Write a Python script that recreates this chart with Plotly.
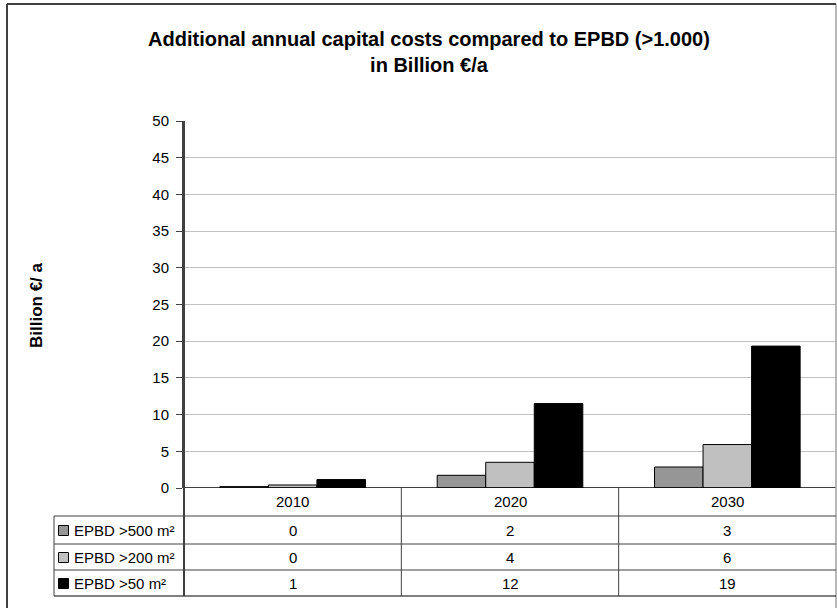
import plotly.graph_objects as go

# ---- data ----
years = ["2010", "2020", "2030"]
series_names = ["EPBD >500 m²", "EPBD >200 m²", "EPBD >50 m²"]
epbd_500 = [0.19, 1.73, 2.86]
epbd_200 = [0.41, 3.5, 5.92]
epbd_50 = [1.15, 11.5, 19.33]
series_values = [epbd_500, epbd_200, epbd_50]
series_colors = ["#969696", "#C0C0C0", "#000000"]
y_ticks = [0, 5, 10, 15, 20, 25, 30, 35, 40, 45, 50]

FONT = "Liberation Sans, Arial, sans-serif"
W, H = 837, 608
L, R, T, B = 184, 1, 121, 120
PH = H - T - B  # plot height in px


def py(ypx):
    """pixel y (from top) -> paper y"""
    return (H - B - ypx) / PH


def px(xpx):
    return (xpx - L) / (W - L - R)


fig = go.Figure()
for name, vals, col in zip(series_names, series_values, series_colors):
    fig.add_trace(go.Bar(
        x=years, y=vals, name=name,
        marker=dict(color=col, line=dict(color="#000000", width=1)),
        showlegend=False, hoverinfo="skip",
    ))

shapes = []
ann = []

# zero line
shapes.append(dict(type="line", xref="paper", yref="y", x0=0, x1=1, y0=0, y1=0,
                   line=dict(color="#000000", width=1.5)))
# right edge
shapes.append(dict(type="line", xref="paper", yref="paper", x0=1, x1=1, y0=py(620), y1=py(4),
                   line=dict(color="#A0A0A0", width=1.5)))

# table rows (pixel boundaries)
row_edges = [488, 516, 544, 570, 596]
row_centers = [(row_edges[i] + row_edges[i + 1]) / 2 for i in range(4)]
tbl_left = 54
line_col = "#404040"
for yy in row_edges[1:]:
    shapes.append(dict(type="line", xref="paper", yref="paper",
                       x0=px(tbl_left), x1=1, y0=py(yy), y1=py(yy),
                       line=dict(color=line_col if yy != 596 else "#000000", width=1)))
# legend column left border
shapes.append(dict(type="line", xref="paper", yref="paper", x0=px(tbl_left), x1=px(tbl_left),
                   y0=py(516), y1=py(596), line=dict(color=line_col, width=1)))
# axis line continues down through table
shapes.append(dict(type="line", xref="paper", yref="paper", x0=0, x1=0,
                   y0=py(596), y1=1, line=dict(color="#404040", width=2)))
# category separators
for xi in [0.5, 1.5]:
    shapes.append(dict(type="line", xref="x", yref="paper", x0=xi, x1=xi,
                       y0=py(596), y1=py(488), line=dict(color=line_col, width=1)))

TF = dict(size=15, color="#000000", family=FONT)
# header (years)
for i, yr in enumerate(years):
    ann.append(dict(x=i, xref="x", y=py(row_centers[0]), yref="paper", text=yr,
                    showarrow=False, font=TF, xanchor="center", yanchor="middle"))
# table values
for r, (name, vals, col) in enumerate(zip(series_names, series_values, series_colors)):
    yc = row_centers[r + 1]
    for i, v in enumerate(vals):
        ann.append(dict(x=i, xref="x", y=py(yc), yref="paper", text=str(int(v + 0.5)),
                        showarrow=False, font=TF, xanchor="center", yanchor="middle"))
    # legend key
    shapes.append(dict(type="rect", xref="paper", yref="paper",
                       x0=px(58.5), x1=px(68.5), y0=py(yc + 5.5), y1=py(yc - 4.5),
                       fillcolor=col, line=dict(color="#000000", width=1)))
    ann.append(dict(x=px(71.5), xref="paper", y=py(yc), yref="paper", text=name,
                    showarrow=False, font=TF, xanchor="left", yanchor="middle"))

# outer chart border
shapes.append(dict(type="line", xref="paper", yref="paper", x0=px(7), x1=px(7),
                   y0=py(620), y1=py(4), line=dict(color="#404040", width=2)))
shapes.append(dict(type="line", xref="paper", yref="paper", x0=px(7), x1=1,
                   y0=py(4), y1=py(4), line=dict(color="#404040", width=2)))

# y-axis title
ann.append(dict(x=px(36), xref="paper", y=py(305), yref="paper", text="<b>Billion €/ a</b>",
                textangle=-90, showarrow=False, font=dict(size=17, color="#000000", family=FONT),
                xanchor="center", yanchor="middle"))

fig.update_layout(
    width=W, height=H,
    margin=dict(l=L, r=R, t=T, b=B),
    paper_bgcolor="white", plot_bgcolor="white",
    barmode="group", bargap=0.33, bargroupgap=0,
    title=dict(text="<b>Additional annual capital costs compared to EPBD (>1.000)<br>in Billion €/a</b>",
               x=429 / W, xanchor="center", xref="container",
               y=1 - 46 / H, yanchor="top", yref="container",
               font=dict(size=20, color="#000000", family=FONT)),
    xaxis=dict(type="category", range=[-0.5, 2.5], showticklabels=False, ticks="",
               showgrid=False, showline=False, zeroline=False, fixedrange=True),
    yaxis=dict(range=[0, 50], tickvals=y_ticks, ticks="outside", ticklen=6,
               tickcolor="#404040", tickwidth=1, showline=True, linecolor="#404040",
               linewidth=2, gridcolor="#C0C0C0", gridwidth=1, zeroline=False,
               tickfont=dict(size=15, color="#000000", family=FONT),
               ticklabelstandoff=4, fixedrange=True),
    shapes=shapes, annotations=ann,
    font=dict(family=FONT),
)

fig.write_html("out.html", config={"displayModeBar": False},
               post_script="document.body.style.margin='0';document.body.style.overflow='hidden';")
